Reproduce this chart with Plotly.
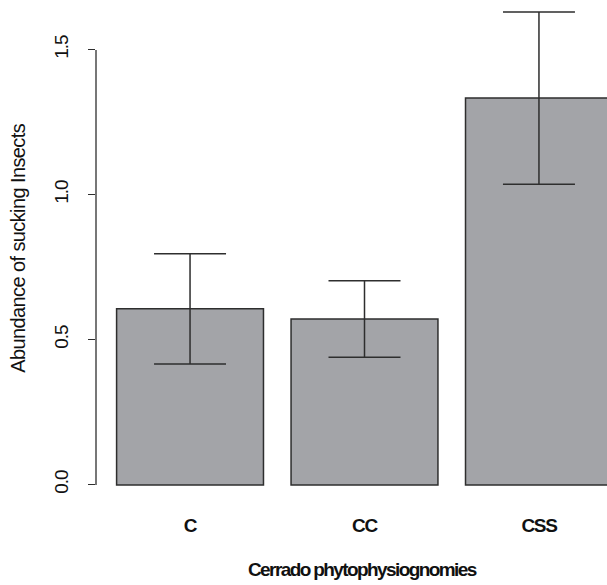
import plotly.graph_objects as go

categories = ["C", "CC", "CSS"]
means = [0.607, 0.572, 1.334]
se = [0.190, 0.132, 0.297]
y_ticks = [0.0, 0.5, 1.0, 1.5]
y_tick_labels = ["0.0", "0.5", "1.0", "1.5"]
x_title = "Cerrado phytophysiognomies"
y_title = "Abundance of sucking Insects"

FONT = "Liberation Sans, Arial, sans-serif"
DARK = "#2e2e2e"
TXT = "#111111"
FS = 19


def tight(s, ls=-1.3):
    return f'<span style="letter-spacing:{ls}px">{s}</span>'


fig = go.Figure()
fig.add_trace(go.Bar(
    x=categories, y=means, width=0.842,
    marker=dict(color="#a3a4a8", line=dict(color=DARK, width=1.5)),
    error_y=dict(type="data", array=se, visible=True, color=DARK,
                 thickness=1.5, width=36),
))

fig.update_layout(
    width=607, height=585,
    margin=dict(l=96, r=0, t=0, b=85),
    plot_bgcolor="white", paper_bgcolor="white",
    showlegend=False,
    font=dict(family=FONT, size=FS, color=TXT),
    xaxis=dict(range=[-0.539, 2.39], showline=False, showgrid=False,
               zeroline=False, ticks="", ticklabelstandoff=12,
               tickvals=categories, ticktext=[tight(c) for c in categories],
               tickfont=dict(size=FS, color=TXT, weight="bold")),
    yaxis=dict(range=[-0.052, 1.672], showline=False, showgrid=False,
               zeroline=False, ticks="outside", ticklen=7, tickwidth=1.3,
               tickcolor=DARK, tickvals=y_ticks,
               ticktext=[tight(t, -1.0) for t in y_tick_labels],
               tickangle=-90, ticklabelstandoff=12,
               tickfont=dict(size=FS, color=TXT)),
    shapes=[dict(type="line", xref="paper", yref="y", x0=0, x1=0,
                 y0=y_ticks[0], y1=y_ticks[-1],
                 line=dict(color=DARK, width=1.3))],
    annotations=[
        dict(text=tight(y_title, -0.6), xref="paper", yref="paper",
             x=-0.153, y=0.504, textangle=-90, showarrow=False,
             font=dict(size=20, color=TXT),
             xanchor="center", yanchor="middle"),
        dict(text=tight(x_title, -1.6), xref="paper", yref="paper",
             x=0.5225, y=-0.138, showarrow=False,
             font=dict(size=FS, color=TXT, weight="bold"),
             xanchor="center", yanchor="middle"),
    ],
)

fig.write_html("out.html")
